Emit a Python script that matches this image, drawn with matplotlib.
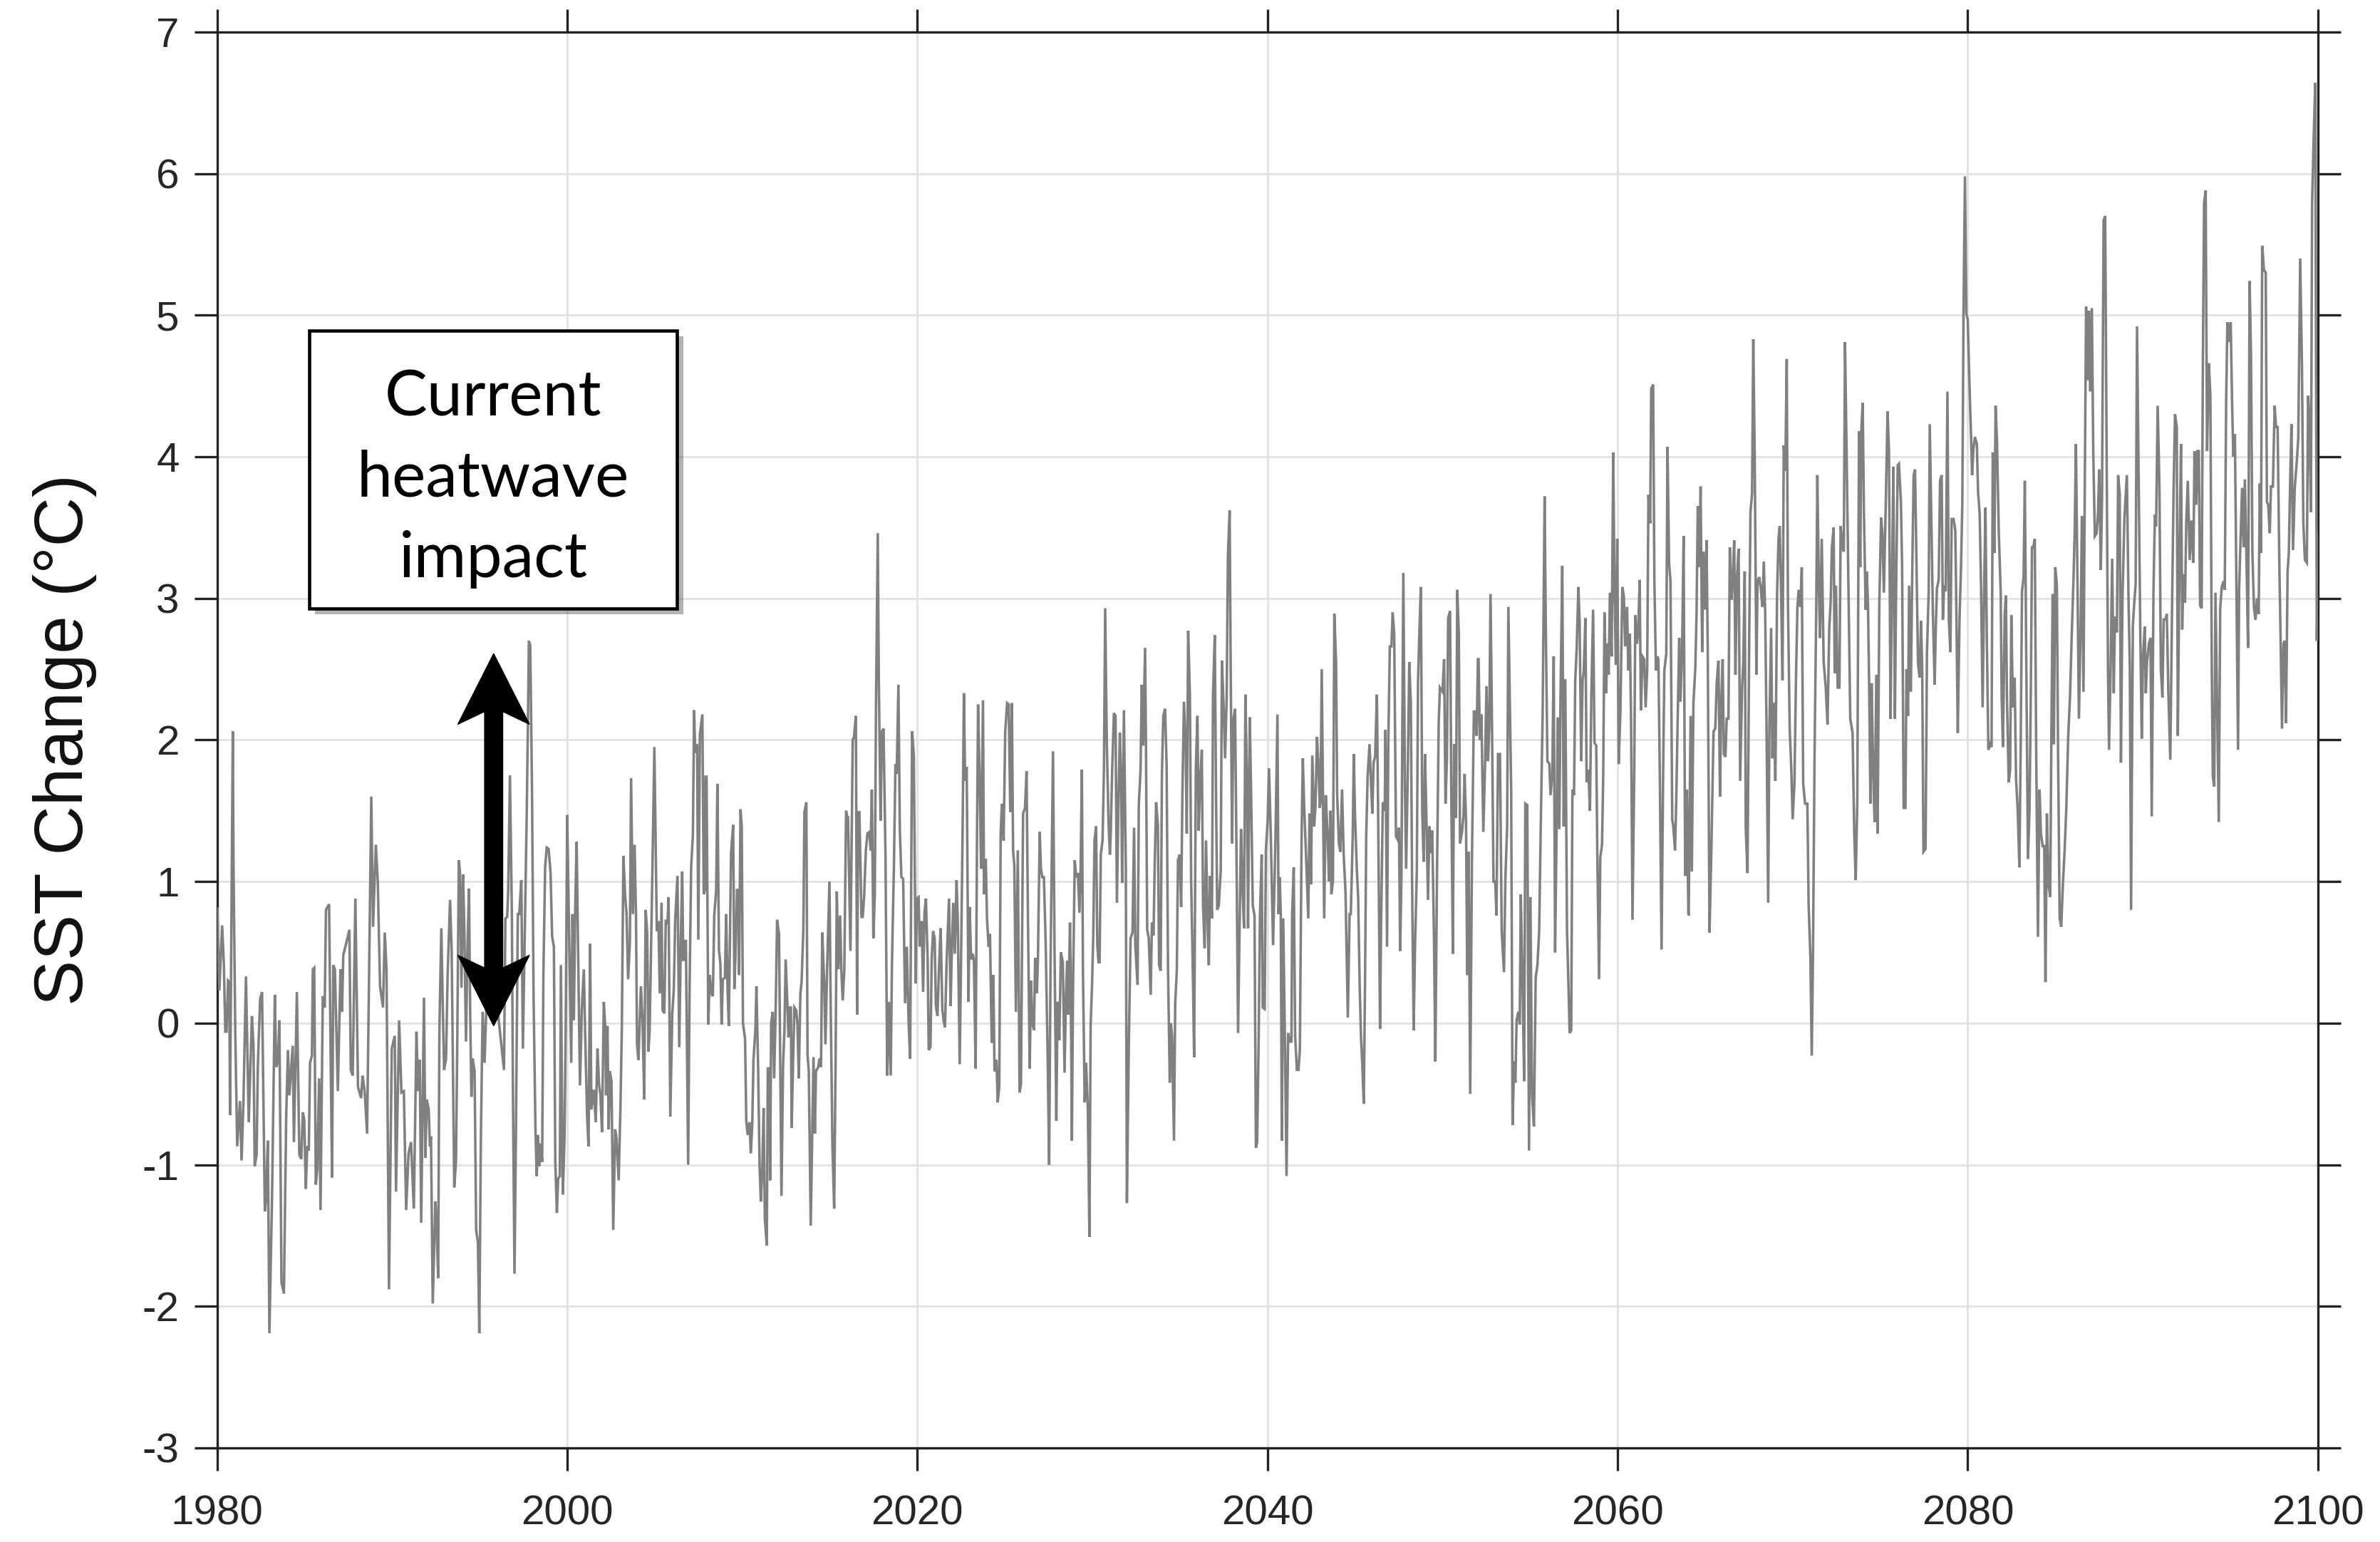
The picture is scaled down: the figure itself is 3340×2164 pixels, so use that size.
import numpy as np
import matplotlib
matplotlib.use("Agg")
import matplotlib.pyplot as plt
from matplotlib.patches import Rectangle, Polygon
import matplotlib.patheffects as pe

plt.rcParams['font.family'] = ['Liberation Sans', 'DejaVu Sans']
plt.rcParams['axes.unicode_minus'] = False

# Projected sea-surface temperature change (°C) as (decimal year, value) pairs
sst_1980_1992 = [
    (1980.02, 0.81), (1980.13, 0.23), (1980.29, 0.69), (1980.39, 0.41), (1980.47, -0.06), (1980.54, -0.06),
    (1980.63, 0.30), (1980.70, 0.29), (1980.74, -0.65), (1980.90, 2.06), (1980.94, 1.12), (1981.04, -0.06),
    (1981.15, -0.87), (1981.31, -0.55), (1981.40, -0.97), (1981.51, -0.54), (1981.65, 0.33), (1981.81, -0.70),
    (1981.99, 0.05), (1982.08, -0.15), (1982.15, -1.01), (1982.26, -0.93), (1982.33, -0.30), (1982.46, 0.17),
    (1982.57, 0.22), (1982.73, -1.33), (1982.80, -1.24), (1982.90, -0.83), (1982.99, -2.19), (1983.14, -1.24),
    (1983.30, 0.20), (1983.38, -0.31), (1983.48, -0.27), (1983.56, 0.02), (1983.68, -1.83), (1983.82, -1.91),
    (1983.95, -0.65), (1984.05, -0.19), (1984.13, -0.51), (1984.32, -0.16), (1984.39, -0.84), (1984.56, 0.22),
    (1984.70, -0.93), (1984.81, -0.96), (1984.90, -0.63), (1984.98, -0.68), (1985.07, -1.17), (1985.15, -0.87),
    (1985.24, -0.90), (1985.31, -0.28), (1985.42, -0.23), (1985.47, 0.38), (1985.55, 0.39), (1985.64, -1.14),
    (1985.72, -1.04), (1985.83, -0.39), (1985.91, -1.32), (1986.04, 0.19), (1986.15, 0.11), (1986.22, 0.80),
    (1986.40, 0.84), (1986.50, -0.36), (1986.57, -1.09), (1986.64, 0.41), (1986.73, 0.38), (1986.90, -0.48),
    (1987.05, 0.38), (1987.14, 0.08), (1987.21, 0.48), (1987.37, 0.56), (1987.56, 0.66), (1987.64, -0.33),
    (1987.75, -0.37), (1987.90, 0.88), (1988.05, -0.45), (1988.23, -0.53), (1988.31, -0.37), (1988.43, -0.48),
    (1988.57, -0.78), (1988.81, 1.60), (1988.91, 0.68), (1989.07, 1.26), (1989.18, 1.00), (1989.31, 0.26),
    (1989.48, 0.11), (1989.58, 0.64), (1989.68, 0.38), (1989.82, -1.88), (1989.98, -0.18), (1990.15, -0.09),
    (1990.22, -1.19), (1990.40, 0.02), (1990.53, -0.49), (1990.67, -0.48), (1990.80, -1.32), (1990.94, -0.92),
    (1991.08, -0.84), (1991.24, -1.31), (1991.39, -0.06), (1991.48, -0.48), (1991.58, -0.26), (1991.66, -1.41),
    (1991.82, 0.18), (1991.90, -0.95), (1991.98, -0.54),
]

sst_1992_2004 = [
    (1992.09, -0.61), (1992.16, -0.87), (1992.22, -0.80), (1992.32, -1.98), (1992.47, -1.26), (1992.54, -1.42),
    (1992.63, -1.80), (1992.70, -0.05), (1992.81, 0.67), (1992.90, 0.08), (1992.97, -0.33), (1993.08, -0.25),
    (1993.17, 0.34), (1993.31, 0.87), (1993.40, 0.51), (1993.55, -1.16), (1993.65, -0.97), (1993.72, -0.15),
    (1993.81, 1.15), (1993.88, 1.06), (1993.96, 0.25), (1994.05, 1.05), (1994.12, 0.70), (1994.22, -0.13),
    (1994.30, 0.51), (1994.39, 0.95), (1994.46, 0.05), (1994.53, -0.52), (1994.60, -0.25), (1994.71, -0.34),
    (1994.80, -1.46), (1994.90, -1.55), (1994.98, -2.19), (1995.07, -0.80), (1995.17, 0.08), (1995.28, -0.28),
    (1995.38, 0.11), (1995.68, 0.51), (1996.09, 0.02), (1996.39, -0.33), (1996.47, 0.74), (1996.57, 0.75),
    (1996.63, 0.93), (1996.73, 1.75), (1996.84, 0.77), (1996.90, -0.47), (1996.99, -1.77), (1997.07, -0.80),
    (1997.18, 0.77), (1997.26, 0.77), (1997.38, 1.01), (1997.47, -0.18), (1997.56, 0.51), (1997.69, 1.49),
    (1997.76, 2.14), (1997.81, 2.70), (1997.89, 2.67), (1997.99, 1.65), (1998.08, 0.18), (1998.19, -0.77),
    (1998.26, -1.08), (1998.33, -0.79), (1998.40, -1.01), (1998.49, -0.85), (1998.57, -0.98), (1998.64, 0.34),
    (1998.74, 1.10), (1998.83, 1.24), (1998.94, 1.23), (1999.05, 1.06), (1999.14, 0.61), (1999.24, 0.54),
    (1999.32, -0.97), (1999.41, -1.34), (1999.48, -1.10), (1999.58, -1.08), (1999.64, 0.41), (1999.75, -1.21),
    (1999.85, -0.80), (1999.92, 0.05), (2000.00, 1.47), (2000.09, 0.77), (2000.23, -0.28), (2000.30, 0.77),
    (2000.38, 0.02), (2000.46, 0.83), (2000.54, 1.28), (2000.63, 0.44), (2000.73, -0.44), (2000.84, 0.11),
    (2000.95, 0.38), (2001.04, -0.15), (2001.14, -0.67), (2001.22, -0.87), (2001.31, 0.56), (2001.38, -0.61),
    (2001.52, -0.47), (2001.63, -0.70), (2001.73, -0.18), (2001.82, -0.43), (2001.90, -0.51), (2001.99, -0.77),
    (2002.09, 0.15), (2002.17, -0.02), (2002.22, -0.51), (2002.30, -0.02), (2002.37, -0.75), (2002.44, -0.34),
    (2002.53, -0.41), (2002.63, -1.46), (2002.74, -0.75), (2002.81, -0.80), (2002.94, -1.11), (2003.04, -0.61),
    (2003.12, -0.05), (2003.21, 1.18), (2003.31, 0.90), (2003.39, 0.77), (2003.48, 0.31), (2003.58, 0.57),
    (2003.65, 1.73), (2003.75, 0.77), (2003.85, 1.26), (2003.93, 0.75), (2003.99, -0.15),
]

sst_2004_2016 = [
    (2004.07, -0.26), (2004.21, 0.26), (2004.30, 0.03), (2004.40, -0.54), (2004.48, 0.80), (2004.57, 0.64),
    (2004.64, -0.20), (2004.71, -0.05), (2004.80, 0.58), (2004.87, 1.10), (2004.98, 1.95), (2005.05, 1.30),
    (2005.12, 0.65), (2005.21, 0.72), (2005.29, 0.21), (2005.39, 0.85), (2005.45, 0.09), (2005.55, 0.07),
    (2005.63, 0.73), (2005.73, 0.70), (2005.79, 0.89), (2005.89, -0.66), (2006.00, 0.06), (2006.09, 0.24),
    (2006.17, 0.73), (2006.30, 1.04), (2006.40, -0.17), (2006.50, 0.64), (2006.57, 1.07), (2006.63, 0.44),
    (2006.72, 0.58), (2006.78, 0.58), (2006.91, -1.00), (2006.99, 0.24), (2007.08, 1.10), (2007.18, 1.33),
    (2007.25, 2.21), (2007.31, 1.91), (2007.42, 1.97), (2007.49, 0.59), (2007.58, 2.04), (2007.72, 2.18),
    (2007.80, 0.91), (2007.86, 0.94), (2007.90, 1.74), (2007.96, 1.74), (2008.06, -0.01), (2008.14, 0.34),
    (2008.24, 0.21), (2008.32, 0.19), (2008.40, 0.76), (2008.51, 0.94), (2008.58, 1.69), (2008.67, 0.52),
    (2008.75, 0.42), (2008.82, -0.01), (2008.89, 0.31), (2009.01, 0.32), (2009.08, 0.77), (2009.16, 0.24),
    (2009.23, -0.02), (2009.36, 1.20), (2009.48, 1.40), (2009.55, 0.24), (2009.63, 0.55), (2009.70, 0.94),
    (2009.78, 0.94), (2009.82, 0.34), (2009.90, 1.51), (2009.97, 1.39), (2010.04, 0.00), (2010.16, -0.11),
    (2010.23, -0.69), (2010.31, -0.79), (2010.41, -0.70), (2010.49, -0.92), (2010.57, -0.72), (2010.64, -0.26),
    (2010.75, -0.05), (2010.81, 0.26), (2010.91, -0.34), (2010.99, -1.01), (2011.06, -1.26), (2011.14, -1.06),
    (2011.22, -0.60), (2011.29, -1.38), (2011.40, -1.57), (2011.46, -0.32), (2011.56, -0.32), (2011.59, -1.11),
    (2011.65, 0.00), (2011.74, 0.08), (2011.82, -0.39), (2011.90, 0.04), (2011.99, 0.73), (2012.10, 0.63),
    (2012.24, -1.22), (2012.33, -0.30), (2012.41, -0.05), (2012.48, 0.45), (2012.58, 0.12), (2012.64, -0.10),
    (2012.71, 0.11), (2012.78, 0.11), (2012.82, -0.74), (2012.89, -0.34), (2012.98, 0.11), (2013.08, 0.09),
    (2013.15, 0.00), (2013.23, -0.39), (2013.32, 0.21), (2013.39, 0.29), (2013.49, 0.67), (2013.55, 1.49),
    (2013.66, 1.56), (2013.73, -0.23), (2013.80, -0.34), (2013.91, -1.43), (2014.07, -0.24), (2014.15, -0.78),
    (2014.21, -0.34), (2014.34, -0.31), (2014.41, -0.25), (2014.50, -0.31), (2014.57, 0.64), (2014.68, 0.29),
    (2014.75, -0.15), (2014.84, 0.35), (2014.98, 1.00), (2015.05, 0.13), (2015.15, -0.86), (2015.25, -1.31),
    (2015.33, -0.28), (2015.40, 0.93), (2015.49, 0.38), (2015.59, 0.76), (2015.66, 0.37), (2015.74, 0.16),
    (2015.83, 0.38), (2015.93, 1.50), (2016.01, 1.45),
]

sst_2016_2028 = [
    (2016.04, 1.46), (2016.18, 0.51), (2016.31, 2.00), (2016.38, 2.02), (2016.49, 2.17), (2016.56, 0.06),
    (2016.62, 1.49), (2016.69, 1.49), (2016.81, 0.75), (2016.88, 0.75), (2016.96, 0.89), (2017.06, 1.22),
    (2017.15, 1.34), (2017.26, 1.35), (2017.33, 1.22), (2017.40, 1.65), (2017.49, 0.60), (2017.57, 0.91),
    (2017.64, 2.26), (2017.74, 3.46), (2017.80, 2.42), (2017.90, 1.43), (2017.98, 2.06), (2018.07, 2.08),
    (2018.18, 1.19), (2018.28, -0.37), (2018.37, 0.15), (2018.48, -0.37), (2018.55, 0.42), (2018.66, 1.09),
    (2018.75, 1.83), (2018.82, 1.76), (2018.92, 2.39), (2019.00, 1.37), (2019.09, 1.03), (2019.19, 1.02),
    (2019.30, 0.14), (2019.40, 0.54), (2019.50, 0.01), (2019.59, -0.25), (2019.70, 2.06), (2019.80, 1.89),
    (2019.91, 0.28), (2019.97, 0.88), (2020.07, 0.89), (2020.14, 0.54), (2020.25, 0.72), (2020.33, 0.22),
    (2020.41, 0.78), (2020.49, 0.88), (2020.59, 0.45), (2020.65, -0.19), (2020.75, -0.17), (2020.82, 0.45),
    (2020.90, 0.65), (2020.99, 0.60), (2021.06, 0.12), (2021.15, 0.05), (2021.24, 0.40), (2021.33, 0.67),
    (2021.43, 0.09), (2021.51, 0.01), (2021.58, -0.03), (2021.67, 0.42), (2021.81, 0.88), (2021.90, 0.12),
    (2021.97, 0.51), (2022.05, 0.85), (2022.14, 0.49), (2022.24, 1.01), (2022.31, 0.72), (2022.42, -0.29),
    (2022.51, 0.57), (2022.59, 1.40), (2022.66, 2.33), (2022.73, 1.71), (2022.82, 1.81), (2022.92, 0.15),
    (2022.99, 0.82), (2023.07, 0.45), (2023.16, 0.49), (2023.23, 0.45), (2023.33, -0.32), (2023.41, 1.34),
    (2023.47, 2.25), (2023.57, 1.65), (2023.64, 1.09), (2023.75, 2.28), (2023.81, 0.91), (2023.91, 1.16),
    (2023.98, 0.74), (2024.07, 0.54), (2024.15, 0.63), (2024.25, -0.14), (2024.34, 0.34), (2024.41, -0.34),
    (2024.52, -0.26), (2024.59, -0.56), (2024.68, -0.45), (2024.76, 1.34), (2024.83, 1.55), (2024.93, 1.29),
    (2025.02, 2.06), (2025.13, 2.26), (2025.22, 2.25), (2025.31, 1.49), (2025.40, 2.26), (2025.47, 1.22),
    (2025.54, 1.11), (2025.63, 0.08), (2025.74, 1.22), (2025.84, -0.49), (2025.92, -0.43), (2026.04, 1.48),
    (2026.15, 1.52), (2026.24, 1.78), (2026.32, 0.72), (2026.42, -0.32), (2026.49, 0.30), (2026.57, 0.00),
    (2026.66, -0.05), (2026.73, 0.46), (2026.83, 0.21), (2026.89, 0.46), (2026.99, 1.35), (2027.06, 1.09),
    (2027.14, 1.03), (2027.23, 1.03), (2027.33, 0.57), (2027.44, -0.20), (2027.53, -1.00), (2027.61, 0.42),
    (2027.75, 1.92), (2027.84, 0.48), (2027.94, -0.69), (2028.01, 0.15),
]

sst_2028_2040 = [
    (2028.04, 0.14), (2028.11, -0.12), (2028.20, 0.50), (2028.31, 0.43), (2028.41, -0.35), (2028.49, 0.20),
    (2028.56, 0.44), (2028.62, 0.06), (2028.72, 0.71), (2028.76, 0.34), (2028.83, -0.83), (2028.89, 0.20),
    (2028.99, 1.15), (2029.08, 1.03), (2029.17, 1.06), (2029.26, 0.78), (2029.33, 1.12), (2029.40, 1.79),
    (2029.46, 0.37), (2029.56, -0.56), (2029.64, -0.28), (2029.74, -0.61), (2029.83, -1.51), (2029.90, -0.01),
    (2029.98, 0.27), (2030.05, 0.62), (2030.12, 1.29), (2030.21, 1.39), (2030.28, 0.55), (2030.35, 0.43),
    (2030.41, 0.43), (2030.48, 1.19), (2030.58, 1.29), (2030.66, 1.79), (2030.73, 2.93), (2030.82, 2.00),
    (2030.92, 1.43), (2031.00, 1.19), (2031.05, 1.36), (2031.13, 1.79), (2031.23, 2.19), (2031.32, 2.17),
    (2031.40, 0.85), (2031.50, 1.64), (2031.57, 2.05), (2031.64, 1.72), (2031.70, 0.99), (2031.80, 2.21),
    (2031.91, 1.08), (2031.97, -1.27), (2032.08, -0.16), (2032.18, 0.60), (2032.29, 0.64), (2032.38, 1.38),
    (2032.45, 0.55), (2032.58, 0.27), (2032.65, 1.54), (2032.75, 1.79), (2032.82, 2.39), (2032.90, 1.96),
    (2033.01, 2.65), (2033.06, 1.96), (2033.13, 0.66), (2033.22, 0.60), (2033.33, 0.20), (2033.40, 0.71),
    (2033.49, 0.62), (2033.56, 1.12), (2033.64, 1.56), (2033.74, 1.40), (2033.81, 0.41), (2033.90, 0.37),
    (2033.97, 1.75), (2034.05, 2.17), (2034.15, 2.22), (2034.24, 1.82), (2034.32, 0.37), (2034.42, -0.42),
    (2034.48, 0.00), (2034.55, -0.09), (2034.66, -0.83), (2034.73, 0.14), (2034.82, 0.37), (2034.89, 1.15),
    (2034.99, 1.19), (2035.07, 0.82), (2035.14, 1.61), (2035.23, 2.27), (2035.33, 1.93), (2035.39, 1.34),
    (2035.47, 2.77), (2035.57, 2.32), (2035.64, 1.01), (2035.75, 0.27), (2035.81, -0.24), (2035.91, 1.80),
    (2036.00, 2.17), (2036.07, 1.36), (2036.15, 1.70), (2036.25, 1.93), (2036.32, 0.83), (2036.41, 0.53),
    (2036.49, 1.29), (2036.59, 0.66), (2036.65, 0.41), (2036.72, 1.04), (2036.83, 0.74), (2036.89, 2.32),
    (2036.99, 2.74), (2037.06, 1.64), (2037.13, 0.80), (2037.22, 0.83), (2037.33, 1.08), (2037.40, 2.56),
    (2037.50, 2.21), (2037.58, 1.87), (2037.67, 2.30), (2037.74, 3.30), (2037.84, 3.62), (2037.90, 2.49),
    (2037.98, 1.27), (2038.05, 2.14), (2038.15, 2.22), (2038.24, 1.08), (2038.32, -0.07), (2038.42, 0.76),
    (2038.49, 1.37), (2038.58, 0.94), (2038.66, 0.67), (2038.74, 2.32), (2038.83, 1.72), (2038.89, 0.67),
    (2038.99, 2.16), (2039.07, 1.59), (2039.16, 0.83), (2039.26, 0.76), (2039.34, -0.88), (2039.41, -0.84),
    (2039.50, -0.09), (2039.57, 0.76), (2039.67, 1.19), (2039.73, 0.11), (2039.84, 0.10), (2039.91, 1.22),
    (2040.01, 1.43),
]

sst_2040_2052 = [
    (2040.09, 1.80), (2040.19, 1.32), (2040.32, 0.55), (2040.46, 1.32), (2040.57, 2.18), (2040.63, 0.77),
    (2040.70, 1.03), (2040.76, 0.77), (2040.82, -0.83), (2040.90, 0.74), (2041.00, -0.15), (2041.09, -1.08),
    (2041.18, -0.07), (2041.27, -0.13), (2041.37, -0.13), (2041.41, 0.77), (2041.50, 1.10), (2041.58, -0.09),
    (2041.68, -0.33), (2041.77, -0.33), (2041.85, -0.19), (2041.95, 1.32), (2042.02, 1.87), (2042.09, 1.55),
    (2042.22, 1.13), (2042.33, 0.74), (2042.40, 1.48), (2042.49, 0.98), (2042.56, 1.89), (2042.67, 1.39),
    (2042.74, 1.53), (2042.83, 2.02), (2042.90, 1.85), (2042.99, 1.52), (2043.03, 1.56), (2043.10, 2.50),
    (2043.17, 1.62), (2043.24, 0.74), (2043.33, 1.61), (2043.44, 1.32), (2043.51, 1.00), (2043.60, 1.50),
    (2043.65, 0.91), (2043.74, 1.00), (2043.82, 2.89), (2043.92, 2.54), (2043.98, 1.62), (2044.08, 1.27),
    (2044.16, 1.21), (2044.26, 1.65), (2044.35, 1.20), (2044.46, 0.92), (2044.59, 0.04), (2044.69, 0.77),
    (2044.76, 0.77), (2044.87, 1.32), (2044.93, 1.90), (2045.00, 1.47), (2045.10, 1.10), (2045.18, 0.89),
    (2045.27, 0.25), (2045.34, -0.09), (2045.41, -0.27), (2045.50, -0.57), (2045.57, 0.25), (2045.64, 1.32),
    (2045.72, 1.74), (2045.83, 1.97), (2045.91, 1.71), (2045.99, 1.48), (2046.06, 1.84), (2046.15, 1.88),
    (2046.25, 2.32), (2046.32, 1.50), (2046.43, -0.04), (2046.49, 0.71), (2046.59, 1.56), (2046.70, 1.50),
    (2046.74, 2.07), (2046.83, 0.54), (2046.90, 1.96), (2046.99, 2.66), (2047.08, 2.66), (2047.15, 2.90),
    (2047.24, 2.75), (2047.34, 1.32), (2047.42, 1.30), (2047.51, 1.38), (2047.58, 0.51), (2047.65, 1.01),
    (2047.76, 3.18), (2047.85, 1.68), (2047.92, 1.09), (2048.01, 1.74), (2048.10, 2.55), (2048.19, 2.25),
    (2048.26, 1.01), (2048.35, -0.05), (2048.43, 0.55), (2048.53, 1.07), (2048.60, 2.41), (2048.66, 2.69),
    (2048.76, 3.08), (2048.84, 1.50), (2048.92, 1.14), (2049.00, 1.90), (2049.07, 1.50), (2049.17, 0.87),
    (2049.25, 1.39), (2049.32, 1.20), (2049.41, 1.36), (2049.51, 0.62), (2049.59, -0.27), (2049.68, 1.01),
    (2049.78, 2.12), (2049.85, 2.37), (2050.00, 2.34), (2050.09, 2.57), (2050.17, 1.55), (2050.25, 1.87),
    (2050.32, 2.86), (2050.43, 2.91), (2050.50, 1.62), (2050.59, 0.49), (2050.66, 1.97), (2050.77, 1.45),
    (2050.84, 3.06), (2050.93, 2.75), (2051.00, 1.27), (2051.11, 1.35), (2051.20, 1.47), (2051.26, 1.76),
    (2051.34, 1.44), (2051.41, 0.34), (2051.49, 1.21), (2051.58, -0.50), (2051.68, 1.16), (2051.79, 2.20),
    (2051.85, 2.20), (2051.95, 2.03), (2052.02, 2.57),
]

sst_2052_2064 = [
    (2052.06, 2.57), (2052.13, 2.00), (2052.22, 2.18), (2052.33, 1.35), (2052.43, 1.83), (2052.51, 2.38),
    (2052.60, 1.85), (2052.67, 2.09), (2052.74, 3.03), (2052.83, 2.05), (2052.91, 1.00), (2053.01, 1.00),
    (2053.08, 0.76), (2053.17, 1.90), (2053.28, 1.90), (2053.38, 0.65), (2053.51, 0.36), (2053.59, 1.02),
    (2053.69, 1.39), (2053.76, 2.94), (2053.85, 2.20), (2053.92, 1.65), (2054.00, -0.72), (2054.09, -0.27),
    (2054.16, -0.42), (2054.23, 0.02), (2054.33, 0.08), (2054.41, -0.01), (2054.47, 0.91), (2054.57, 0.28),
    (2054.66, -0.41), (2054.73, 1.55), (2054.84, 1.54), (2054.94, -0.90), (2055.02, 0.89), (2055.11, -0.51),
    (2055.22, -0.73), (2055.32, 0.32), (2055.42, 0.41), (2055.52, 0.65), (2055.61, 1.39), (2055.72, 2.20),
    (2055.83, 3.72), (2055.90, 2.79), (2055.99, 1.85), (2056.10, 1.83), (2056.17, 1.61), (2056.27, 1.76),
    (2056.35, 2.59), (2056.43, 0.50), (2056.51, 1.31), (2056.58, 2.16), (2056.67, 1.37), (2056.74, 2.31),
    (2056.84, 3.23), (2056.92, 1.39), (2057.01, 2.43), (2057.11, 0.65), (2057.19, 0.28), (2057.26, -0.07),
    (2057.35, -0.05), (2057.42, 1.65), (2057.51, 1.61), (2057.58, 2.42), (2057.66, 2.64), (2057.76, 3.08),
    (2057.83, 2.83), (2057.92, 1.85), (2058.00, 2.42), (2058.07, 2.49), (2058.16, 2.86), (2058.23, 1.70),
    (2058.33, 1.79), (2058.42, 1.50), (2058.50, 2.31), (2058.60, 2.92), (2058.68, 1.98), (2058.78, 1.96),
    (2058.84, 1.20), (2058.94, 0.31), (2059.01, 1.17), (2059.11, 1.26), (2059.18, 1.76), (2059.25, 2.90),
    (2059.35, 2.33), (2059.41, 2.68), (2059.49, 2.46), (2059.56, 3.04), (2059.66, 2.59), (2059.75, 4.03),
    (2059.82, 3.08), (2059.90, 2.53), (2059.98, 3.42), (2060.06, 1.83), (2060.16, 2.20), (2060.27, 3.08),
    (2060.36, 3.01), (2060.43, 2.66), (2060.54, 2.94), (2060.61, 2.49), (2060.70, 2.75), (2060.77, 2.13),
    (2060.85, 0.73), (2060.95, 1.76), (2061.01, 2.88), (2061.11, 2.68), (2061.18, 2.79), (2061.26, 3.13),
    (2061.33, 2.21), (2061.42, 2.59), (2061.52, 2.57), (2061.60, 2.23), (2061.69, 2.49), (2061.76, 3.73),
    (2061.86, 3.53), (2061.92, 4.48), (2062.03, 4.51), (2062.10, 3.12), (2062.19, 2.49), (2062.26, 2.59),
    (2062.33, 2.57), (2062.41, 1.76), (2062.51, 0.52), (2062.60, 1.76), (2062.67, 2.49), (2062.78, 2.61),
    (2062.85, 4.07), (2062.94, 3.25), (2063.02, 3.12), (2063.12, 1.44), (2063.18, 1.39), (2063.28, 1.22),
    (2063.35, 1.57), (2063.43, 2.14), (2063.52, 2.72), (2063.59, 2.27), (2063.69, 2.68), (2063.77, 3.44),
    (2063.86, 1.04), (2063.96, 1.65), (2064.04, 0.78),
]

sst_2064_2076 = [
    (2064.06, 0.76), (2064.17, 2.17), (2064.24, 1.07), (2064.33, 2.26), (2064.44, 2.51), (2064.51, 2.90),
    (2064.58, 3.65), (2064.67, 3.22), (2064.74, 3.79), (2064.83, 2.62), (2064.91, 3.33), (2065.01, 2.92),
    (2065.08, 3.41), (2065.15, 2.62), (2065.25, 0.64), (2065.35, 1.19), (2065.48, 2.06), (2065.58, 2.08),
    (2065.66, 2.40), (2065.76, 2.56), (2065.85, 1.60), (2065.92, 2.26), (2066.00, 2.57), (2066.07, 1.90),
    (2066.16, 1.88), (2066.23, 2.15), (2066.33, 2.15), (2066.41, 3.36), (2066.50, 2.99), (2066.57, 3.12),
    (2066.66, 3.41), (2066.73, 2.46), (2066.81, 3.12), (2066.91, 3.35), (2067.00, 1.71), (2067.11, 2.37),
    (2067.18, 2.55), (2067.26, 3.19), (2067.32, 1.37), (2067.42, 1.06), (2067.52, 2.76), (2067.59, 3.61),
    (2067.68, 3.74), (2067.75, 4.83), (2067.83, 4.01), (2067.93, 2.46), (2067.99, 3.12), (2068.09, 3.15),
    (2068.17, 3.08), (2068.27, 2.94), (2068.35, 3.26), (2068.43, 2.90), (2068.51, 2.05), (2068.60, 0.85),
    (2068.67, 2.08), (2068.77, 2.79), (2068.84, 1.87), (2068.92, 2.26), (2069.01, 1.71), (2069.11, 3.04),
    (2069.19, 3.42), (2069.26, 3.51), (2069.35, 2.97), (2069.42, 2.42), (2069.49, 4.08), (2069.58, 3.90),
    (2069.66, 4.69), (2069.73, 2.97), (2069.83, 2.08), (2069.92, 1.80), (2070.00, 1.44), (2070.10, 1.69),
    (2070.19, 2.44), (2070.27, 2.94), (2070.34, 3.06), (2070.44, 2.94), (2070.52, 3.22), (2070.60, 1.69),
    (2070.71, 1.55), (2070.84, 1.55), (2070.91, 0.84), (2071.01, 0.48), (2071.09, -0.23), (2071.16, 0.48),
    (2071.25, 1.90), (2071.35, 2.97), (2071.41, 3.87), (2071.49, 3.12), (2071.56, 2.72), (2071.66, 3.42),
    (2071.77, 2.55), (2071.89, 2.37), (2071.99, 2.11), (2072.09, 2.79), (2072.17, 2.97), (2072.24, 3.36),
    (2072.34, 3.50), (2072.40, 2.47), (2072.47, 3.09), (2072.57, 2.37), (2072.67, 2.37), (2072.74, 3.51),
    (2072.84, 3.36), (2072.92, 3.33), (2072.99, 4.81), (2073.08, 4.04), (2073.18, 3.12), (2073.29, 2.15),
    (2073.42, 2.05), (2073.52, 1.33), (2073.60, 1.01), (2073.69, 1.55), (2073.79, 4.18), (2073.86, 3.22),
    (2073.92, 4.18), (2074.00, 4.38), (2074.07, 3.61), (2074.17, 2.92), (2074.23, 3.19), (2074.30, 2.97),
    (2074.37, 2.37), (2074.44, 1.55), (2074.51, 2.40), (2074.60, 1.76), (2074.68, 1.42), (2074.78, 2.46),
    (2074.85, 1.34), (2074.95, 2.97), (2075.05, 3.57), (2075.12, 3.47), (2075.21, 3.04), (2075.32, 3.69),
    (2075.42, 4.32), (2075.50, 4.04), (2075.59, 2.15), (2075.66, 2.97), (2075.75, 3.93), (2075.84, 2.15),
    (2075.90, 2.97), (2076.00, 3.94),
]

sst_2076_2088 = [
    (2076.07, 3.95), (2076.18, 3.69), (2076.25, 3.24), (2076.34, 1.52), (2076.44, 1.52), (2076.50, 2.50),
    (2076.59, 2.17), (2076.65, 3.09), (2076.75, 2.34), (2076.82, 3.09), (2076.91, 3.87), (2076.99, 3.91),
    (2077.09, 3.09), (2077.16, 2.54), (2077.25, 2.44), (2077.33, 2.84), (2077.40, 2.50), (2077.47, 1.21),
    (2077.59, 1.23), (2077.67, 2.62), (2077.77, 3.05), (2077.83, 4.23), (2077.93, 3.48), (2078.01, 2.89),
    (2078.11, 2.39), (2078.17, 2.77), (2078.24, 3.07), (2078.34, 3.13), (2078.42, 3.83), (2078.51, 3.87),
    (2078.58, 2.85), (2078.65, 3.09), (2078.74, 3.05), (2078.84, 4.46), (2078.92, 2.85), (2079.01, 2.62),
    (2079.08, 3.56), (2079.19, 3.56), (2079.29, 3.48), (2079.37, 2.70), (2079.43, 2.05), (2079.53, 2.85),
    (2079.62, 3.24), (2079.69, 3.67), (2079.76, 5.04), (2079.84, 5.98), (2079.92, 5.01), (2080.00, 4.97),
    (2080.10, 4.50), (2080.18, 4.18), (2080.25, 3.87), (2080.32, 4.05), (2080.41, 4.14), (2080.52, 4.09),
    (2080.59, 3.75), (2080.68, 3.60), (2080.76, 3.09), (2080.85, 2.23), (2080.93, 3.01), (2081.01, 3.64),
    (2081.09, 2.70), (2081.18, 1.93), (2081.27, 1.97), (2081.36, 1.95), (2081.43, 4.03), (2081.52, 3.32),
    (2081.59, 4.36), (2081.67, 4.11), (2081.77, 3.48), (2081.88, 3.05), (2081.94, 2.30), (2082.01, 1.95),
    (2082.11, 2.89), (2082.18, 3.02), (2082.24, 2.30), (2082.34, 1.70), (2082.42, 1.79), (2082.49, 2.88),
    (2082.58, 2.23), (2082.68, 2.44), (2082.76, 1.72), (2082.85, 1.52), (2082.95, 1.10), (2083.02, 1.91),
    (2083.10, 3.05), (2083.19, 3.15), (2083.26, 3.83), (2083.36, 2.30), (2083.44, 1.16), (2083.53, 1.52),
    (2083.60, 2.30), (2083.67, 3.36), (2083.74, 3.36), (2083.83, 3.42), (2083.91, 1.91), (2084.01, 0.61),
    (2084.10, 1.65), (2084.18, 1.34), (2084.28, 1.25), (2084.37, 1.25), (2084.44, 0.29), (2084.52, 1.48),
    (2084.62, 0.97), (2084.71, 0.89), (2084.78, 2.07), (2084.85, 3.03), (2084.92, 1.97), (2085.00, 3.22),
    (2085.09, 3.09), (2085.16, 1.91), (2085.25, 0.74), (2085.34, 0.68), (2085.43, 0.97), (2085.53, 1.21),
    (2085.63, 1.52), (2085.74, 2.03), (2085.84, 2.30), (2085.93, 2.70), (2086.04, 3.13), (2086.11, 3.48),
    (2086.18, 4.09), (2086.27, 3.09), (2086.35, 2.15), (2086.45, 2.81), (2086.52, 3.58), (2086.61, 2.34),
    (2086.69, 3.87), (2086.76, 5.06), (2086.86, 4.54), (2086.92, 5.03), (2086.99, 4.46), (2087.09, 5.05),
    (2087.17, 4.03), (2087.26, 3.44), (2087.36, 3.46), (2087.44, 3.60), (2087.51, 3.91), (2087.60, 3.20),
    (2087.67, 3.71), (2087.76, 5.67), (2087.85, 5.70), (2087.94, 3.87), (2088.01, 2.50),
]

sst_2088_2100 = [
    (2088.07, 1.93), (2088.16, 2.50), (2088.25, 3.28), (2088.34, 2.33), (2088.41, 2.87), (2088.52, 2.76),
    (2088.59, 3.87), (2088.68, 3.74), (2088.75, 1.84), (2088.84, 3.02), (2088.95, 3.57), (2089.09, 3.87),
    (2089.18, 3.02), (2089.26, 2.50), (2089.33, 0.80), (2089.43, 2.80), (2089.49, 2.93), (2089.59, 3.10),
    (2089.67, 4.92), (2089.77, 3.78), (2089.86, 2.72), (2089.94, 2.01), (2090.01, 2.59), (2090.11, 2.80),
    (2090.17, 2.33), (2090.24, 2.55), (2090.35, 2.68), (2090.44, 2.72), (2090.51, 1.46), (2090.61, 3.06),
    (2090.69, 3.59), (2090.76, 3.51), (2090.85, 4.36), (2090.95, 3.78), (2091.03, 2.50), (2091.12, 2.30),
    (2091.19, 2.85), (2091.29, 2.85), (2091.37, 2.89), (2091.46, 2.33), (2091.57, 1.86), (2091.67, 2.93),
    (2091.76, 3.78), (2091.84, 4.30), (2091.94, 4.21), (2092.00, 2.03), (2092.10, 3.36), (2092.18, 4.09),
    (2092.25, 2.78), (2092.32, 3.17), (2092.41, 2.97), (2092.48, 3.53), (2092.57, 3.83), (2092.68, 3.27),
    (2092.78, 3.55), (2092.89, 3.25), (2092.95, 4.04), (2093.05, 3.66), (2093.12, 4.04), (2093.20, 4.04),
    (2093.27, 2.95), (2093.36, 2.93), (2093.43, 4.64), (2093.50, 5.79), (2093.59, 5.88), (2093.67, 4.04),
    (2093.77, 4.66), (2093.86, 4.43), (2093.94, 2.50), (2094.00, 1.74), (2094.08, 1.67), (2094.15, 3.04),
    (2094.24, 2.29), (2094.34, 1.42), (2094.42, 2.93), (2094.51, 3.08), (2094.61, 3.12), (2094.68, 3.06),
    (2094.76, 4.38), (2094.83, 4.95), (2094.92, 4.81), (2095.02, 4.95), (2095.10, 4.38), (2095.17, 4.00),
    (2095.26, 4.16), (2095.36, 2.93), (2095.44, 1.93), (2095.50, 3.06), (2095.60, 3.49), (2095.67, 3.78),
    (2095.76, 3.36), (2095.83, 3.84), (2095.91, 3.36), (2096.01, 2.65), (2096.10, 5.24), (2096.18, 4.72),
    (2096.26, 3.32), (2096.35, 2.93), (2096.44, 2.85), (2096.52, 3.00), (2096.62, 2.89), (2096.68, 3.81),
    (2096.75, 3.32), (2096.82, 5.49), (2096.92, 5.32), (2097.02, 5.30), (2097.09, 3.68), (2097.16, 3.66),
    (2097.25, 3.46), (2097.32, 3.79), (2097.43, 3.79), (2097.53, 4.36), (2097.61, 4.21), (2097.70, 4.21),
    (2097.80, 3.23), (2097.87, 2.72), (2097.95, 2.08), (2098.04, 2.68), (2098.11, 2.70), (2098.18, 2.12),
    (2098.27, 3.19), (2098.34, 3.32), (2098.41, 3.78), (2098.49, 4.23), (2098.58, 3.34), (2098.68, 3.78),
    (2098.79, 3.96), (2098.88, 4.13), (2098.99, 5.40), (2099.09, 4.64), (2099.17, 3.53), (2099.26, 3.27),
    (2099.37, 3.25), (2099.44, 4.43), (2099.51, 4.28), (2099.60, 3.61), (2099.67, 5.79), (2099.76, 6.26),
    (2099.85, 6.64), (2099.94, 2.70), (2100.00, 3.46),
]

x_ticks = [1980, 2000, 2020, 2040, 2060, 2080, 2100]
y_ticks = [-3, -2, -1, 0, 1, 2, 3, 4, 5, 6, 7]
y_label = "SST Change (°C)"
note_text = "Current\nheatwave\nimpact"

# Annotation: text box extent and the double-headed arrow span (data units)
note_box = dict(x0=1985.25, x1=2006.28, y0=2.93, y1=4.89)
arrow_x = 1995.8
arrow_low = -0.02
arrow_high = 2.61

segments = [sst_1980_1992, sst_1992_2004, sst_2004_2016, sst_2016_2028, sst_2028_2040,
            sst_2040_2052, sst_2052_2064, sst_2064_2076, sst_2076_2088, sst_2088_2100]
years = np.array([p[0] for seg in segments for p in seg])
sst = np.array([p[1] for seg in segments for p in seg])

fig = plt.figure(figsize=(3340 / 300, 2164 / 300), dpi=300, facecolor='white')
ax = fig.add_axes([0.0912, 0.0610, 0.8827, 0.9183])

ax.plot(years, sst, color='#808080', lw=0.85, solid_joinstyle='miter', zorder=3)

ax.set_xlim(1980, 2100)
ax.set_ylim(-3, 7)
ax.set_xticks(x_ticks)
ax.set_yticks(y_ticks)
ax.grid(True, color='#e2e2e2', lw=0.65)
ax.set_axisbelow(True)

for sp in ax.spines.values():
    sp.set_linewidth(0.8)
    sp.set_color('#222222')
ax.tick_params(axis='both', which='major', direction='out', length=7.7, width=0.8,
               color='#222222', top=True, right=True, labelsize=14,
               labelcolor='#262626')
ax.tick_params(axis='x', pad=8)
ax.tick_params(axis='y', pad=5)

ax.set_ylabel(y_label, fontsize=23, color='#111111', va='center')
ax.yaxis.set_label_coords(-0.0725, 0.5)

# Text box with a soft drop shadow
box = Rectangle((note_box['x0'], note_box['y0']), note_box['x1'] - note_box['x0'],
                note_box['y1'] - note_box['y0'], facecolor='white', edgecolor='black',
                lw=1.1, zorder=6)
box.set_path_effects([pe.SimplePatchShadow(offset=(2.0, -2.0), shadow_rgbFace='#555555', alpha=0.45),
                      pe.Normal()])
ax.add_patch(box)
ax.text((note_box['x0'] + note_box['x1']) / 2, (note_box['y0'] + note_box['y1']) / 2 - 0.065,
        note_text, ha='center', va='center', fontsize=21.5, linespacing=1.47,
        family=['Lato', 'DejaVu Sans'], color='black', zorder=7)

# Double-headed arrow with swept-back heads
head_half_w = 2.05     # years
shaft_half_w = 0.52    # years
head_len = 0.50        # °C
sweep = 0.09           # °C
arrow_pts = [
    (arrow_x, arrow_high),
    (arrow_x + head_half_w, arrow_high - head_len),
    (arrow_x + shaft_half_w, arrow_high - head_len + sweep),
    (arrow_x + shaft_half_w, arrow_low + head_len - sweep),
    (arrow_x + head_half_w, arrow_low + head_len),
    (arrow_x, arrow_low),
    (arrow_x - head_half_w, arrow_low + head_len),
    (arrow_x - shaft_half_w, arrow_low + head_len - sweep),
    (arrow_x - shaft_half_w, arrow_high - head_len + sweep),
    (arrow_x - head_half_w, arrow_high - head_len),
]
ax.add_patch(Polygon(arrow_pts, closed=True, facecolor='black', edgecolor='black',
                     lw=0.3, zorder=5))

fig.savefig('out.png', dpi=300, facecolor='white')
